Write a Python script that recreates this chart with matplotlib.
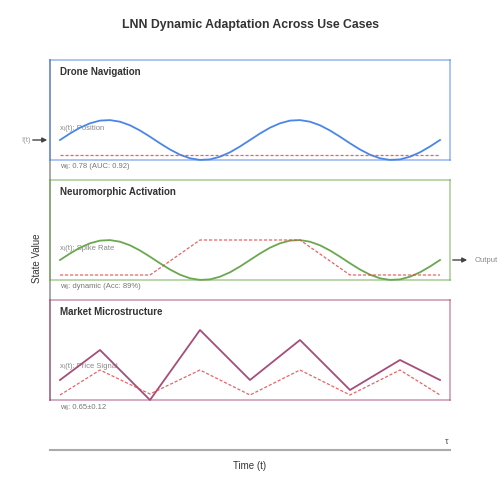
import numpy as np
import matplotlib.pyplot as plt

plt.rcParams['font.family'] = ['Liberation Sans', 'DejaVu Sans']

# time steps (10 px apart in the original), curves run over steps 0..38
t = np.arange(39)

# smooth state traces (state units 0..100 per panel)
wave = [20, 26.5, 32.3, 36.7, 39.4, 39.9, 38.3, 34.7, 29.5, 23.3,
        16.7, 10.5, 5.3, 1.7, 0.1, 0.6, 3.3, 7.7, 13.5, 20,
        26.5, 32.3, 36.7, 39.4, 39.9, 38.3, 34.7, 29.5, 23.3, 16.7,
        10.5, 5.3, 1.7, 0.1, 0.6, 3.3, 7.7, 13.5, 20]
drone_x = wave
drone_w_t = [0, 38]
drone_w = [5, 5]

neuro_x = wave
neuro_w_t = [0, 9, 14, 24, 29, 38]
neuro_w = [5, 5, 40, 40, 5, 5]

market_t = [0, 4, 9, 14, 19, 24, 29, 34, 38]
market_x = [20, 50, 0, 70, 20, 60, 10, 40, 20]
market_w = [5, 30, 6, 30, 5, 30, 5, 30, 5]

panels = [
    ("Drone Navigation", t, drone_x, drone_w_t, drone_w, "#4a86e8",
     "xᵢ(t): Position", "wᵢⱼ: 0.78 (AUC: 0.92)"),
    ("Neuromorphic Activation", t, neuro_x, neuro_w_t, neuro_w, "#6aa84f",
     "xᵢ(t): Spike Rate", "wᵢⱼ: dynamic (Acc: 89%)"),
    ("Market Microstructure", market_t, market_x, market_t, market_w, "#a64d79",
     "xᵢ(t): Price Signal", "wᵢⱼ: 0.65±0.12"),
]
red = "#e8474a"

fig = plt.figure(figsize=(5, 5), dpi=100)
bg = fig.add_axes([0, 0, 1, 1])
bg.set_xlim(0, 500)
bg.set_ylim(500, 0)
bg.axis('off')

bg.text(250, 25, "LNN Dynamic Adaptation Across Use Cases", ha='center', va='center',
        fontsize=8.8, fontweight='bold', color='#333333')

# left axis line and bottom time axis
bg.plot([50, 50], [60, 400], color='#999999', lw=1.2, zorder=1)
bg.plot([50, 450], [450, 450], color='#aaaaaa', lw=1.5)
bg.text(447, 441, "τ", ha='center', va='center', fontsize=6.5, color='#555555')
bg.text(250, 466, "Time (t)", ha='center', va='center', fontsize=7, color='#333333')
bg.text(37, 258, "State Value", ha='center', va='center', fontsize=7,
        color='#333333', rotation=90)

for i, (title, tx, xs, wt, ws, col, xlab, wlab) in enumerate(panels):
    top = 60 + 120 * i
    ax = fig.add_axes([0.1, (500 - top - 100) / 500, 0.8, 0.2])
    ax.set_facecolor('none')
    ax.set_xlim(-1, 39)
    ax.set_ylim(0, 100)
    ax.set_xticks([])
    ax.set_yticks([])
    for s in ax.spines.values():
        s.set_color(col)
        s.set_alpha(0.55)
        s.set_linewidth(1.2)
    ax.plot(tx, xs, color=col, lw=1.3, clip_on=False)
    ax.plot(wt, ws, color=red, lw=0.9, ls=(0, (2.5, 1.5)), alpha=0.85, clip_on=False)
    ax.text(0, 88, title, ha='left', va='center', fontsize=7, fontweight='bold',
            color='#333333')
    bg.text(60, top + 68 - (i == 2) * 1, xlab, ha='left', va='center',
            fontsize=5.5, color='#888888')
    bg.text(60, top + 107, wlab, ha='left', va='center', fontsize=5.5, color='#777777')

# input / output arrows
bg.annotate("", xy=(50, 140), xytext=(30, 140),
            arrowprops=dict(arrowstyle='-|>', color='#444444', lw=1, mutation_scale=7))
bg.text(26, 140, "I(t)", ha='center', va='center', fontsize=5.5, color='#999999')
bg.annotate("", xy=(470, 260), xytext=(450, 260),
            arrowprops=dict(arrowstyle='-|>', color='#444444', lw=1, mutation_scale=7))
bg.text(475, 260, "Output", ha='left', va='center', fontsize=5.5, color='#888888')

fig.savefig("out.png", dpi=100, facecolor='white')
